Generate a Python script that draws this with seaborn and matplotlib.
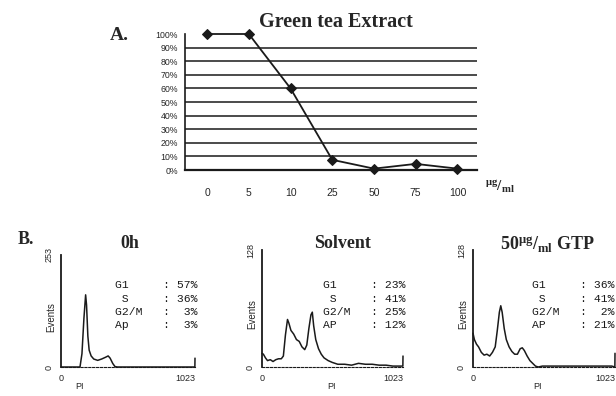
import numpy as np
import pandas as pd
import seaborn as sns
from matplotlib import pyplot as plt
from matplotlib.ticker import MultipleLocator

# Daten Teil A: Viabilitaet (%) je Dosis
doses = ["0", "5", "10", "25", "50", "75", "100"]
viability = [100, 100, 60, 7.5, 1, 4.5, 1]

# Daten Teil B: Histogramme (Kanal, Events)
ch_0h = [0, 100, 145, 160, 175, 188, 195, 205, 215, 230, 250, 280, 310, 340, 360, 375, 395, 412, 430, 600, 800, 1000, 1022, 1023]
ev_0h = [0, 0, 0, 30, 110, 163, 140, 70, 38, 25, 18, 15, 18, 22, 25, 20, 8, 1, 0, 0, 0, 0, 0, 20]

ch_sol = [0, 10, 25, 40, 60, 80, 100, 120, 140, 155, 170, 185, 195, 210, 230, 250, 270, 290, 310, 325, 340, 355, 365,
          375, 390, 410, 430, 450, 480, 510, 550, 600, 650, 700, 750, 800, 850, 900, 950, 1000, 1022, 1023]
ev_sol = [15, 14, 10, 7, 8, 6, 8, 9, 9, 12, 35, 52, 48, 40, 36, 30, 28, 22, 19, 24, 42, 57, 60,
          45, 30, 20, 14, 10, 7, 5, 3, 3, 2, 4, 3, 3, 2, 2, 1, 1, 1, 12]

ch_gtp = [0, 10, 25, 40, 60, 80, 100, 120, 140, 160, 175, 190, 200, 210, 225, 240, 260, 280, 300, 320, 340, 355,
          370, 390, 410, 430, 450, 470, 500, 600, 700, 800, 900, 1000, 1022, 1023]
ev_gtp = [37, 30, 25, 22, 16, 13, 14, 12, 16, 22, 40, 60, 67, 60, 42, 30, 22, 17, 14, 14, 20, 21,
          18, 12, 7, 4, 1, 0, 1, 1, 1, 1, 1, 1, 0, 15]

titles = ["0h", "Solvent", r"50$^{\mathregular{\mu g}}$/$_{\mathregular{ml}}$ GTP"]
ymaxes = [253, 128, 128]
stats = [
    ["G1     : 57%", " S     : 36%", "G2/M   :  3%", "Ap     :  3%"],
    ["G1     : 23%", " S     : 41%", "G2/M   : 25%", "AP     : 12%"],
    ["G1     : 36%", " S     : 41%", "G2/M   :  2%", "AP     : 21%"],
]

sns.set_style("white")
plt.rcParams['font.family'] = ['Liberation Sans', 'DejaVu Sans']
plt.rcParams['mathtext.default'] = 'regular'

W, H = 616, 396
fig = plt.figure(figsize=(W / 100, H / 100), dpi=100)


def box(l, t, r, b):
    return [l / W, 1 - b / H, (r - l) / W, (b - t) / H]


def pt(x, y):
    return x / W, 1 - y / H


ink = "#1a1a1a"
serif = ['Liberation Serif', 'DejaVu Serif']

# A. Linienplot
ax = fig.add_axes(box(185, 34, 477, 170))
xpos = np.arange(len(doses))
sns.lineplot(x=xpos, y=viability, marker="D", markersize=5, color=ink, lw=1.3,
             markeredgecolor=ink, ax=ax, clip_on=False)
ax.set_xlim(-0.53, 6.47)
ax.set_ylim(0, 100)
ax.set_yticks(range(0, 101, 10))
ax.set_yticklabels([f"{v}%" for v in range(0, 101, 10)], fontsize=6.3)
for v in range(10, 100, 10):
    ax.axhline(v, color=ink, lw=1.1)
ax.set_xticks(xpos)
ax.set_xticklabels(doses, fontsize=7.5)
ax.xaxis.set_minor_locator(MultipleLocator(0.5))
ax.tick_params(axis="x", which="major", length=0, pad=13)
ax.tick_params(axis="x", which="minor", length=2, direction="in", color=ink)
ax.tick_params(axis="y", length=4, direction="inout", pad=3, color=ink, width=0.8)
for s in ["top", "right"]:
    ax.spines[s].set_visible(False)
ax.spines["left"].set_color(ink)
ax.spines["bottom"].set_color(ink)
ax.spines["bottom"].set_linewidth(1.6)
ax.spines["left"].set_linewidth(1.2)
ax.grid(False)

fig.text(*pt(259, 22), "Green tea Extract", family=serif, fontweight="bold", fontsize=14.5, va="center", ha="left")
fig.text(*pt(110, 35), "A.", family=serif, fontweight="bold", fontsize=14, va="center", ha="left")
fig.text(*pt(485, 187), r"$^{\mathregular{\mu g}}$/$_{\mathregular{ml}}$", family=serif, fontweight="bold",
         fontsize=11, va="center", ha="left")

# B. Histogramme
boxes = [(61, 255, 195, 367), (262, 250, 403, 367), (473, 250, 615, 367)]
title_x = [130, 343, 547]
text_x = [115, 323, 532]
label_x = [80, 332, 537]
hist = [(ch_0h, ev_0h), (ch_sol, ev_sol), (ch_gtp, ev_gtp)]

for i in range(3):
    l, t, r, b = boxes[i]
    axh = fig.add_axes(box(l, t, r, b))
    ch, ev = hist[i]
    sns.lineplot(x=ch, y=ev, color=ink, lw=1.1, ax=axh, clip_on=False)
    axh.set_xlim(0, 1023)
    axh.set_ylim(0, ymaxes[i])
    axh.set_yticks([0, ymaxes[i]])
    axh.set_yticklabels(["0", str(ymaxes[i])], rotation=90, va="center", fontsize=6.5)
    axh.yaxis.set_minor_locator(MultipleLocator(ymaxes[i] / 4))
    axh.set_xticks([0, 1023])
    xl = axh.set_xticklabels(["0", "1023"], fontsize=6.5)
    xl[1].set_ha("right")
    axh.xaxis.set_minor_locator(MultipleLocator(1023 / 40))
    axh.tick_params(axis="y", which="major", length=3, pad=2, color=ink)
    axh.tick_params(axis="y", which="minor", length=2, color=ink)
    axh.tick_params(axis="x", which="major", length=3, pad=2, color=ink)
    axh.tick_params(axis="x", which="minor", length=1.5, color=ink)
    for s in ["top", "right"]:
        axh.spines[s].set_visible(False)
    axh.spines["left"].set_color(ink)
    axh.spines["left"].set_linewidth(1.3)
    axh.spines["bottom"].set_color(ink)
    axh.spines["bottom"].set_linestyle((0, (2, 1.5)))
    axh.set_ylabel("Events", fontsize=7)
    axh.yaxis.set_label_coords(-0.035, 0.45)
    axh.set_xlabel("PI", fontsize=6.5)
    axh.xaxis.set_label_coords((label_x[i] - l) / (r - l), -0.13)
    axh.grid(False)

    fig.text(*pt(title_x[i], 244), titles[i], family=serif, fontweight="bold", fontsize=13,
             va="center", ha="center")
    for j, line in enumerate(stats[i]):
        fig.text(*pt(text_x[i], 285 + j * 13.5), line, family=['Liberation Mono', 'DejaVu Sans Mono'],
                 fontsize=8.2, va="center", ha="left", color=ink)

fig.text(*pt(18, 240), "B.", family=serif, fontweight="bold", fontsize=13, va="center", ha="left")

fig.savefig("out.png", dpi=100)
